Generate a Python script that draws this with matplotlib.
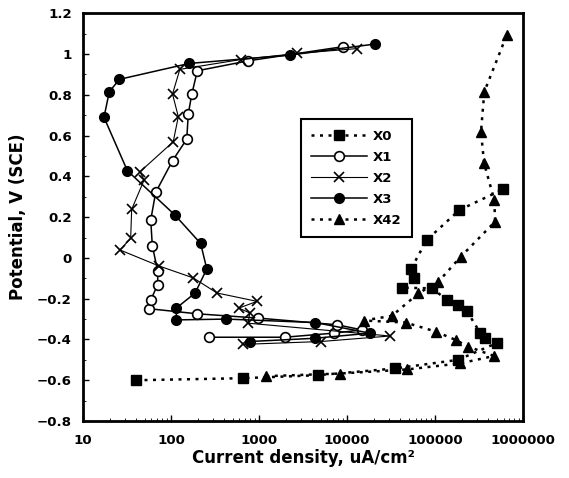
import matplotlib
matplotlib.use("Agg")
import matplotlib.pyplot as plt
from matplotlib.ticker import FixedLocator, NullFormatter, MultipleLocator

plt.rcParams['font.family'] = ['DejaVu Sans']
plt.rcParams['font.weight'] = 'bold'

# Polarization curves: current density (uA/cm2) vs potential (V SCE)
x0_i = [40, 650, 4680, 35500, 182000, 505000, 370000, 325000, 229000, 184000,
        138000, 91600, 41700, 58200, 53000, 80500, 189000, 589000]
x0_v = [-0.60, -0.59, -0.575, -0.542, -0.50, -0.417, -0.394, -0.367, -0.259, -0.231,
        -0.206, -0.149, -0.146, -0.10, -0.056, 0.088, 0.235, 0.336]

x1_i = [270, 1950, 7050, 14800, 7740, 970, 198, 56, 59, 70.6, 70.6, 61.3,
        58.8, 67, 104, 151, 157, 172, 199, 757, 8930]
x1_v = [-0.389, -0.389, -0.369, -0.353, -0.328, -0.295, -0.274, -0.249, -0.205,
        -0.131, -0.065, 0.06, 0.186, 0.322, 0.477, 0.583, 0.706, 0.802, 0.918,
        0.967, 1.036]

x2_i = [662, 5050, 30800, 750, 785, 590, 950, 333, 179, 73.6, 26.3, 34.8, 35.7,
        49.4, 44.5, 106, 121, 104, 126, 620, 2720, 13100]
x2_v = [-0.424, -0.41, -0.383, -0.32, -0.27, -0.246, -0.213, -0.172, -0.098,
        -0.04, 0.039, 0.096, 0.238, 0.382, 0.423, 0.57, 0.693, 0.804, 0.925,
        0.973, 1.003, 1.027]

x3_i = [787, 4370, 18200, 4370, 424, 115, 115, 188, 255, 217, 111, 31.9, 17.3,
        19.9, 25.9, 161, 2240, 20700]
x3_v = [-0.41, -0.394, -0.369, -0.317, -0.30, -0.304, -0.246, -0.172, -0.054,
        0.071, 0.21, 0.428, 0.69, 0.815, 0.876, 0.954, 0.995, 1.049]

x42_i = [1210, 8360, 48300, 194000, 467000, 239000, 171000, 101600, 46400, 15500,
         32400, 64600, 109000, 196000, 481000, 472000, 361000, 333000, 363000, 653000]
x42_v = [-0.58, -0.567, -0.547, -0.517, -0.481, -0.435, -0.402, -0.361, -0.317,
         -0.307, -0.284, -0.174, -0.117, 0.006, 0.178, 0.284, 0.464, 0.619, 0.815, 1.093]

x_ticks = [10, 100, 1000, 10000, 100000, 1000000]
x_labels = ['10', '100', '1000', '10000', '100000', '1000000']
y_ticks = [-0.8, -0.6, -0.4, -0.2, 0, 0.2, 0.4, 0.6, 0.8, 1.0, 1.2]
y_labels = ['−0.8', '−0.6', '−0.4', '−0.2', '0', '0.2', '0.4', '0.6', '0.8', '1', '1.2']

fig = plt.figure(figsize=(5.69, 4.78), dpi=100)
ax = fig.add_axes([0.1459, 0.1192, 0.7733, 0.853])

dots = (0, (1.2, 2.2))
ax.plot(x0_i, x0_v, color='black', linestyle=dots, linewidth=1.8,
        marker='s', markersize=7, markerfacecolor='black', label='X0')
ax.plot(x1_i, x1_v, color='black', linestyle='-', linewidth=1.1,
        marker='o', markersize=7, markerfacecolor='white', markeredgewidth=1.2, label='X1')
ax.plot(x2_i, x2_v, color='black', linestyle='-', linewidth=0.8,
        marker='x', markersize=7, markeredgewidth=1.2, label='X2')
ax.plot(x3_i, x3_v, color='black', linestyle='-', linewidth=1.1,
        marker='o', markersize=7, markerfacecolor='black', label='X3')
ax.plot(x42_i, x42_v, color='black', linestyle=dots, linewidth=1.8,
        marker='^', markersize=7.5, markerfacecolor='black', label='X42')

ax.set_xscale('log')
ax.set_xlim(10, 1e6)
ax.set_ylim(-0.8, 1.2)
ax.xaxis.set_major_locator(FixedLocator(x_ticks))
ax.set_xticklabels(x_labels)
ax.xaxis.set_minor_formatter(NullFormatter())
ax.set_yticks(y_ticks)
ax.set_yticklabels(y_labels)
ax.yaxis.set_minor_locator(MultipleLocator(0.1))

ax.tick_params(which='major', direction='in', length=4, width=1, labelsize=9.6, pad=8)
ax.tick_params(axis='x', which='major', pad=9)
ax.tick_params(which='minor', direction='in', length=2, width=0.6)
for lab in ax.get_xticklabels() + ax.get_yticklabels():
    lab.set_fontweight('bold')

for sp in ax.spines.values():
    sp.set_linewidth(2)

ax.set_xlabel('Current density, uA/cm²', fontsize=12, fontweight='bold', labelpad=2)
ax.set_ylabel('Potential, V (SCE)', fontsize=12, fontweight='bold', labelpad=7)

leg = ax.legend(loc='upper left', bbox_to_anchor=(0.495, 0.74), borderaxespad=0,
                fancybox=False, edgecolor='black', framealpha=1, handlelength=4.2,
                handletextpad=0.45, labelspacing=0.6, borderpad=0.8,
                prop={'weight': 'bold', 'size': 9.5})
leg.get_frame().set_linewidth(1.5)

fig.savefig('out.png', dpi=100)
